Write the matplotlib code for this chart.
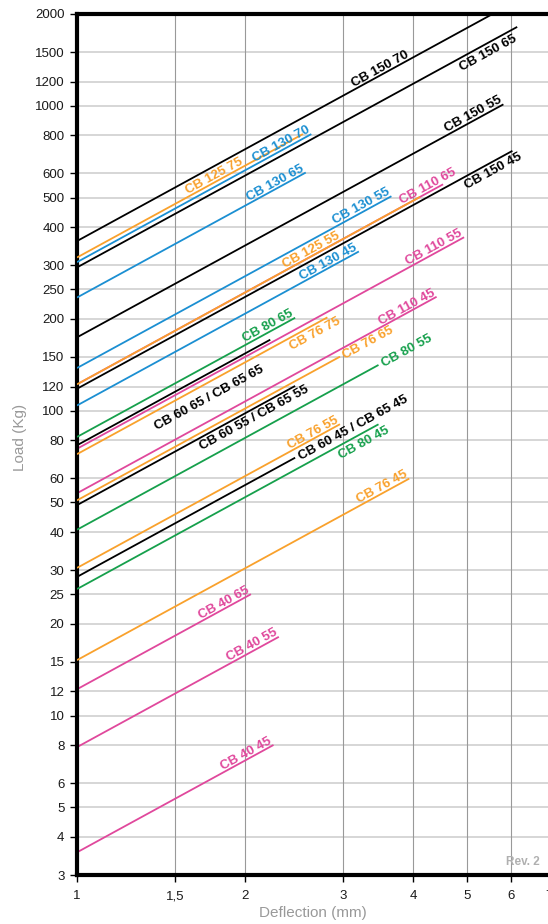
import numpy as np
import matplotlib.pyplot as plt
from matplotlib.transforms import offset_copy

plt.rcParams['font.family'] = ['Liberation Sans', 'DejaVu Sans']

# load (kg) at 1 mm deflection, and maximum deflection (mm) for each cushion
names = ["CB 150 70", "CB 150 65", "CB 150 55", "CB 150 45",
         "CB 130 70", "CB 130 65", "CB 130 55", "CB 130 45",
         "CB 125 75", "CB 125 55",
         "CB 110 65", "CB 110 55", "CB 110 45",
         "CB 80 65", "CB 80 55", "CB 80 45",
         "CB 76 75", "CB 76 65", "CB 76 55", "CB 76 45",
         "CB 60 65 / CB 65 65", "CB 60 55 / CB 65 55", "CB 60 45 / CB 65 45",
         "CB 40 65", "CB 40 55", "CB 40 45"]
load_at_1mm = [360, 295, 174, 118,
               307, 235, 138, 104,
               318, 122,
               122, 75, 53.6,
               82, 40.7, 26,
               72, 50.8, 30.5, 15.2,
               77, 49, 28.5,
               12.2, 7.88, 3.56]
max_deflection = [5.56, 6.15, 5.81, 6.03,
                  2.63, 2.57, 3.66, 3.2,
                  2.54, 4.12,
                  4.53, 4.94, 4.41,
                  2.46, 3.47, 3.47,
                  2.81, 2.96, 2.96, 3.94,
                  2.22, 2.46, 2.46,
                  2.05, 2.3, 2.25]

x_ticks = [1, 1.5, 2, 3, 4, 5, 6, 7]
x_ticklabels = ["1", "1,5", "2", "3", "4", "5", "6", "7"]
y_ticks = [3, 4, 5, 6, 8, 10, 12, 15, 20, 25, 30, 40, 50, 60, 80, 100, 120, 150,
           200, 250, 300, 400, 500, 600, 800, 1000, 1200, 1500, 2000]

# styling
col = {"k": "black", "o": "#f9a12c", "b": "#1b8fd2", "g": "#16a04c", "p": "#e0489c"}
series_col = ["k", "k", "k", "k", "b", "b", "b", "b", "o", "o", "p", "p", "p",
              "g", "g", "g", "o", "o", "o", "o", "k", "k", "k", "p", "p", "p"]
# label placement: x on line, alignment, perpendicular offset (px)
label_pos = [(3.15, "left", 2.5), (6.02, "right", -12), (5.81, "right", 2.5), (6.15, "right", -12),
             (2.63, "right", 2.5), (2.57, "right", 2.5), (3.66, "right", 2.5), (3.2, "right", 2.5),
             (2.0, "right", 2.5), (2.98, "right", 2.5),
             (3.84, "left", 2.5), (4.94, "right", 2.5), (4.41, "right", 2.5),
             (2.46, "right", 2.5), (3.52, "left", -4.5), (3.55, "right", -12),
             (2.91, "right", -12), (3.0, "left", -4.5), (2.96, "right", 2.5), (3.94, "right", 2.5),
             (2.06, "right", -25), (2.55, "right", -12), (2.5, "left", -4.5),
             (2.05, "right", 2.5), (2.3, "right", 2.5), (2.25, "right", 2.5)]

W, H = 548, 924
fig = plt.figure(figsize=(W / 100, H / 100), dpi=100)
xmax = 7.5
ax = fig.add_axes([77 / W, 49 / H, 558 * np.log10(xmax) / W, 861 / H])
ax.set_xscale("log")
ax.set_yscale("log")
ax.set_xlim(1, xmax)
ax.set_ylim(3, 2000)

ax.set_xticks(x_ticks)
ax.set_xticklabels(x_ticklabels)
ax.set_yticks(y_ticks)
ax.set_yticklabels([str(v) for v in y_ticks])
ax.minorticks_off()
ax.tick_params(axis="both", labelsize=9.5, length=5, width=1, color="black", labelcolor="#1a1a1a")
ax.tick_params(axis="y", pad=4)
ax.tick_params(axis="x", pad=6)

for y in y_ticks:
    ax.axhline(y, color="#d0d0d0", lw=1.2, zorder=0)
for x in x_ticks[1:]:
    ax.axvline(x, color="#999999", lw=0.8, zorder=0)

for s in ["left", "top", "bottom"]:
    ax.spines[s].set_linewidth(3)
ax.spines["right"].set_visible(False)

p1 = ax.transData.transform((1, 1))
p2 = ax.transData.transform((10, 10))
ang = np.arctan2(p2[1] - p1[1], p2[0] - p1[0])
ang_deg = np.degrees(ang)

for i, name in enumerate(names):
    c = col[series_col[i]]
    k = load_at_1mm[i]
    xe = max_deflection[i]
    z = 2 if series_col[i] == "p" else 3
    ax.plot([1, xe], [k, k * xe], color=c, lw=1.3, zorder=z, solid_capstyle="butt")
    lx, ha, off = label_pos[i]
    tr = offset_copy(ax.transData, fig=fig, x=-off * np.sin(ang), y=off * np.cos(ang), units="dots")
    ax.text(lx, k * lx, name, transform=tr, rotation=ang_deg, rotation_mode="anchor",
            ha=ha, va="baseline", fontsize=9.5, fontweight="bold", color=c, zorder=5)

fig.text(20 / W, 1 - 437 / H, "Load (Kg)", rotation=90, ha="center", va="center",
         fontsize=11, color="#999999")
fig.text(313 / W, 1 - 913 / H, "Deflection (mm)", ha="center", va="center",
         fontsize=11, color="#999999")
fig.text(540 / W, 1 - 862 / H, "Rev. 2", ha="right", va="center",
         fontsize=8.5, fontweight="bold", color="#b0b0b0")

fig.savefig("out.png", dpi=100)
